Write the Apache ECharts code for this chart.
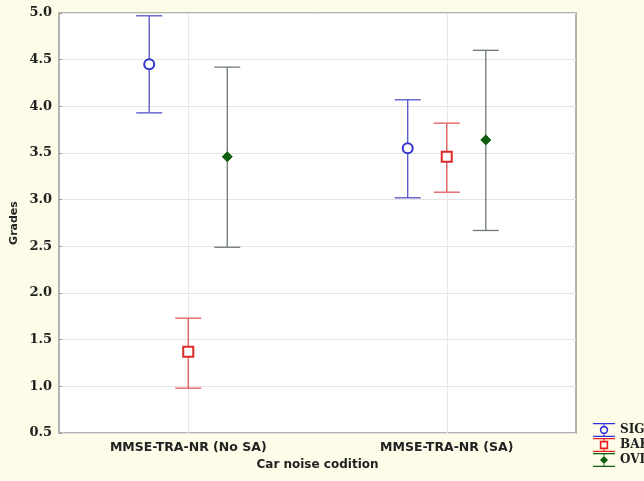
<!DOCTYPE html>
<html>
<head>
<meta charset="utf-8">
<script src="https://cdn.jsdelivr.net/npm/echarts@6/dist/echarts.min.js"></script>
<style>
  html, body { margin: 0; padding: 0; background: #fcfce9; }
  #chart { width: 644px; height: 481px; }
</style>
</head>
<body>
<div id="chart"></div>
<script>
// categories and series values: [low, mean, high] for each category
const categories = ["MMSE-TRA-NR (No SA)", "MMSE-TRA-NR (SA)"];
const sigValues = [[3.93, 4.45, 4.97], [3.02, 3.55, 4.07]];
const bakValues = [[0.98, 1.37, 1.73], [3.08, 3.46, 3.82]];
const ovlValues = [[2.49, 3.46, 4.42], [2.67, 3.64, 4.60]];
const yTicks = [0.5, 1.0, 1.5, 2.0, 2.5, 3.0, 3.5, 4.0, 4.5, 5.0];

document.addEventListener("DOMContentLoaded", function () {
    let chart = echarts.init(document.getElementById("chart"));

    // horizontal shift of each series inside a category band
    const offsets = [-0.151, 0, 0.151];

    function makeSeries(name, values, idx, lineColor, marker) {
        return {
            name: name,
            type: "custom",
            data: values.map((v, i) => [i, v[0], v[1], v[2]]),
            renderItem: function (params, api) {
                let band = api.size([1, 0])[0];
                let lo = api.coord([api.value(0), api.value(1)]);
                let mid = api.coord([api.value(0), api.value(2)]);
                let hi = api.coord([api.value(0), api.value(3)]);
                let x = mid[0] + offsets[idx] * band;
                let cap = 13;
                let lineStyle = { stroke: lineColor, lineWidth: 1.3 };
                let children = [
                    { type: "line", shape: { x1: x, y1: hi[1], x2: x, y2: lo[1] }, style: lineStyle },
                    { type: "line", shape: { x1: x - cap, y1: hi[1], x2: x + cap, y2: hi[1] }, style: lineStyle },
                    { type: "line", shape: { x1: x - cap, y1: lo[1], x2: x + cap, y2: lo[1] }, style: lineStyle }
                ];
                children.push(marker(x, mid[1]));
                return { type: "group", children: children };
            }
        };
    }

    let sig = makeSeries("SIG", sigValues, 0, "#5252cc", (x, y) => ({
        type: "circle", shape: { cx: x, cy: y, r: 5 },
        style: { fill: "#fff", stroke: "#3333cc", lineWidth: 2 }
    }));
    // vertical grid lines through the category centres
    sig.markLine = {
        silent: true,
        symbol: "none",
        label: { show: false },
        lineStyle: { color: "#e8e8e8", width: 1, type: "solid" },
        z: 0,
        data: categories.map(c => ({ xAxis: c }))
    };

    // legend icons: whisker bar above and below the marker (22 x 14 box)
    const bars = "M0 0 H22 V1.2 H0 Z M0 12.8 H22 V14 H0 Z M10.4 1.2 H11.6 V2.5 H10.4 Z M10.4 11.5 H11.6 V12.8 H10.4 Z ";
    const sigIcon = "path://" + bars +
        "M6.8 7 A4.2 4.2 0 1 1 15.2 7 A4.2 4.2 0 1 1 6.8 7 Z M8.4 7 A2.6 2.6 0 1 0 13.6 7 A2.6 2.6 0 1 0 8.4 7 Z";
    const bakIcon = "path://" + bars +
        "M6.8 2.8 H15.2 V11.2 H6.8 Z M8.4 4.4 V9.6 H13.6 V4.4 Z";
    const ovlIcon = "path://" + bars +
        "M11 3 L15 7 L11 11 L7 7 Z";

    let option = {
        backgroundColor: "#fcfce9",
        grid: {
            left: 59, right: 68, top: 13, bottom: 48,
            containLabel: false,
            outerBoundsMode: "none",
            show: true,
            backgroundColor: "#ffffff",
            borderColor: "#9a9a9a",
            borderWidth: 1.5
        },
        legend: {
            orient: "vertical",
            left: 588,
            top: 418,
            itemGap: 1,
            itemWidth: 22,
            itemHeight: 14,
            textStyle: { fontFamily: "DejaVu Serif", fontWeight: "bold", fontSize: 12, lineHeight: 14, color: "#222" },
            data: [
                { name: "SIG", icon: sigIcon, itemStyle: { color: "#3030dd" } },
                { name: "BAK", icon: bakIcon, itemStyle: { color: "#e82020" } },
                { name: "OVL", icon: ovlIcon, itemStyle: { color: "#0b5e0b" } }
            ]
        },
        xAxis: {
            type: "category",
            data: categories,
            name: "Car noise codition",
            nameLocation: "middle",
            nameGap: 26,
            nameMoveOverlap: false,
            nameTextStyle: { fontFamily: "DejaVu Sans", fontWeight: "bold", fontSize: 12, color: "#222" },
            axisLine: { show: false },
            axisTick: { alignWithLabel: true, length: 3, inside: true, lineStyle: { color: "#999" } },
            axisLabel: { fontFamily: "DejaVu Sans", fontWeight: "bold", fontSize: 12.5, color: "#222", margin: 8 },
            splitLine: { show: false }
        },
        yAxis: {
            type: "value",
            min: yTicks[0],
            max: yTicks[yTicks.length - 1],
            interval: 0.5,
            name: "Grades",
            nameLocation: "middle",
            nameGap: 39,
            nameMoveOverlap: false,
            nameTextStyle: { fontFamily: "DejaVu Sans", fontWeight: "bold", fontSize: 11, color: "#222" },
            axisLine: { show: false },
            axisTick: { show: true, inside: true, length: 3, lineStyle: { color: "#999" } },
            axisLabel: {
                fontFamily: "DejaVu Serif", fontWeight: "bold", fontSize: 13, color: "#222", margin: 7,
                formatter: v => v.toFixed(1)
            },
            splitLine: { show: true, lineStyle: { color: "#e4e4e4", width: 1 } }
        },
        series: [
            sig,
            makeSeries("BAK", bakValues, 1, "#e05a5a", (x, y) => ({
                type: "rect", shape: { x: x - 5, y: y - 5, width: 10, height: 10 },
                style: { fill: "#fff", stroke: "#dd2a2a", lineWidth: 2 }
            })),
            makeSeries("OVL", ovlValues, 2, "#6e7a70", (x, y) => ({
                type: "polygon", shape: { points: [[x, y - 5], [x + 5, y], [x, y + 5], [x - 5, y]] },
                style: { fill: "#0b5e0b", stroke: "#0b5e0b", lineWidth: 1 }
            }))
        ]
    };
    chart.setOption(option);
});
</script>
</body>
</html>
